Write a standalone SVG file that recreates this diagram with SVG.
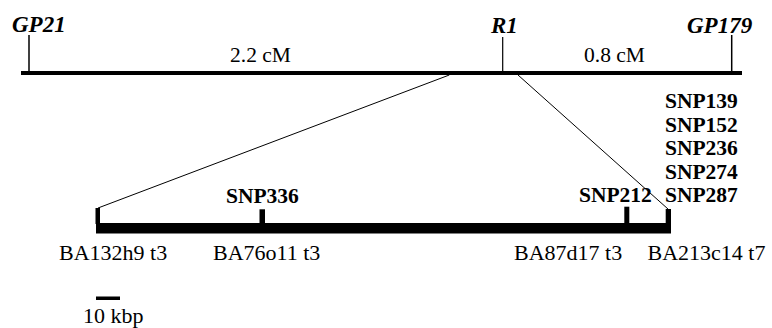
<svg xmlns="http://www.w3.org/2000/svg" width="772" height="328" viewBox="0 0 772 328">
<style>
text{font-family:"Liberation Serif","Times New Roman",serif;fill:#000}
.mk{font-size:23px;font-weight:bold;font-style:italic}
.snp{font-size:21.5px;font-weight:bold}
.lbl{font-size:22px}
.cm{font-size:21.5px}
.ln{stroke:#000;fill:none}
</style>
<rect width="772" height="328" fill="#fff"/>
<g id="chromosome">
<rect x="21" y="71" width="721" height="4" fill="#000"/>
<line class="ln" x1="29" y1="35" x2="29" y2="73" stroke-width="1.5"/>
<line class="ln" x1="502.7" y1="37" x2="502.7" y2="73" stroke-width="1.2"/>
<line class="ln" x1="731.7" y1="35" x2="731.7" y2="73" stroke-width="1.5"/>
</g>
<g id="GP21"><text class="mk" x="12" y="32">GP21</text></g>
<g id="R1"><text class="mk" x="491" y="33">R1</text></g>
<g id="GP179"><text class="mk" x="687" y="33">GP179</text></g>
<g id="dist1"><text class="cm" x="230" y="62">2.2 cM</text></g>
<g id="dist2"><text class="cm" x="584" y="62">0.8 cM</text></g>
<g id="snps-right">
<text class="snp" x="665" y="108.3">SNP139</text>
<text class="snp" x="665" y="131.8">SNP152</text>
<text class="snp" x="665" y="155.3">SNP236</text>
<text class="snp" x="665" y="178.8">SNP274</text>
<text class="snp" x="665" y="202.3">SNP287</text>
</g>
<g id="connectors">
<line class="ln" x1="449.3" y1="75" x2="98" y2="208" stroke-width="1"/>
<line class="ln" x1="518" y1="75" x2="668" y2="209" stroke-width="1"/>
</g>
<g id="contig">
<rect x="96" y="223" width="575" height="10.5" fill="#000"/>
<rect x="95.5" y="208" width="4.5" height="16" fill="#000"/>
<rect x="259.5" y="209.3" width="5.5" height="15" fill="#000"/>
<rect x="624.3" y="206.7" width="5" height="17" fill="#000"/>
<rect x="665.7" y="209" width="5.3" height="15" fill="#000"/>
</g>
<g id="SNP336"><text class="snp" x="226" y="202.7">SNP336</text></g>
<g id="SNP212"><text class="snp" x="579" y="202.3">SNP212</text></g>
<g id="BA132h9"><text class="lbl" x="59" y="260">BA132h9 t3</text></g>
<g id="BA76o11"><text class="lbl" x="213" y="260">BA76o11 t3</text></g>
<g id="BA87d17"><text class="lbl" x="514" y="260">BA87d17 t3</text></g>
<g id="BA213c14"><text class="lbl" x="647.5" y="260">BA213c14 t7</text></g>
<g id="scale">
<rect x="96" y="296.5" width="24" height="3.5" fill="#000"/>
<text class="lbl" x="83" y="323.3">10 kbp</text>
</g>
</svg>
